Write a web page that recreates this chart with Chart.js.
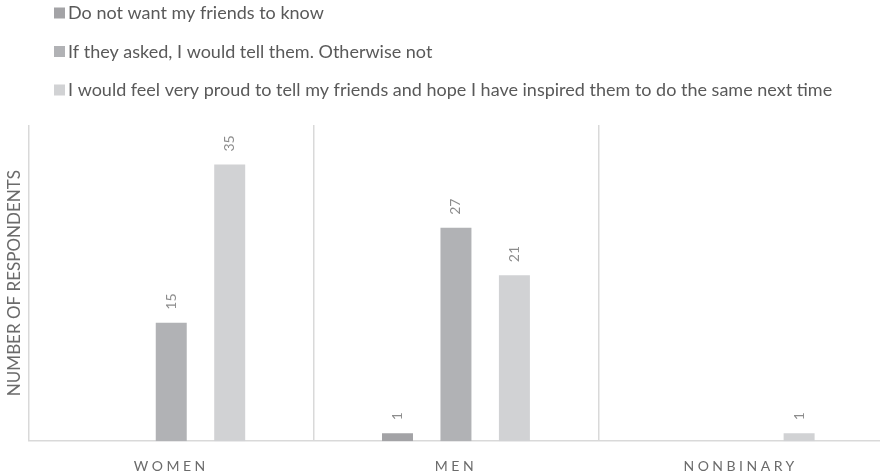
<!DOCTYPE html>
<html>
<head>
<meta charset="utf-8">
<script src="https://cdn.jsdelivr.net/npm/chart.js@4/dist/chart.umd.min.js"></script>
<style>
  html, body { margin: 0; padding: 0; background: #ffffff; overflow: hidden; }
  #wrap { position: relative; width: 883px; height: 475px; }
</style>
</head>
<body>
<div id="wrap"><canvas id="c"></canvas></div>
<script>
// Survey answers by gender
const categories = ['WOMEN', 'MEN', 'NONBINARY'];
const seriesNames = [
  'Do not want my friends to know',
  'If they asked, I would tell them. Otherwise not',
  'I would feel very proud to tell my friends and hope I have inspired them to do the same next time'
];
const notTell = [0, 1, 0];
const tellIfAsked = [15, 27, 0];
const veryProud = [35, 21, 1];
const seriesColors = ['#a3a3a6', '#b1b2b5', '#d1d2d4'];
const axisTitle = 'NUMBER OF RESPONDENTS';

const FONT = 'Lato, "Open Sans", sans-serif';

// Category axis with letter-spaced labels
class SpacedCategoryScale extends Chart.CategoryScale {
  drawLabels(area) {
    const ctx = this.ctx;
    ctx.save();
    ctx.letterSpacing = '3.5px';
    super.drawLabels(area);
    ctx.restore();
  }
}
SpacedCategoryScale.id = 'spacedCategory';
SpacedCategoryScale.defaults = Chart.CategoryScale.defaults;
Chart.register(SpacedCategoryScale);

// Legend stacked one entry per line at the top left
const stackedLegend = {
  id: 'stackedLegend',
  afterDraw(chart) {
    const ctx = chart.ctx;
    ctx.save();
    ctx.font = '18px ' + FONT;
    ctx.textBaseline = 'middle';
    ctx.textAlign = 'left';
    const rowY = [13, 51.5, 90];
    chart.data.datasets.forEach((ds, i) => {
      const y = rowY[i];
      ctx.fillStyle = ds.backgroundColor;
      ctx.fillRect(54, y - 5.5, 11, 11);
      ctx.fillStyle = '#595959';
      ctx.fillText(ds.label, 68, y + 0.5);
    });
    ctx.restore();
  }
};

// Vertical value labels above each bar
const barValues = {
  id: 'barValues',
  afterDatasetsDraw(chart) {
    const ctx = chart.ctx;
    ctx.save();
    ctx.font = '14px ' + FONT;
    ctx.fillStyle = '#8c8c8c';
    ctx.textAlign = 'left';
    ctx.textBaseline = 'middle';
    chart.data.datasets.forEach((ds, i) => {
      const meta = chart.getDatasetMeta(i);
      meta.data.forEach((bar, j) => {
        const v = ds.data[j];
        if (!v) return;
        ctx.save();
        ctx.translate(bar.x, bar.y - 13);
        ctx.rotate(-Math.PI / 2);
        ctx.fillText(String(v), 0, 0);
        ctx.restore();
      });
    });
    ctx.restore();
  }
};

const values = [notTell, tellIfAsked, veryProud];

new Chart(document.getElementById('c'), {
  type: 'bar',
  data: {
    labels: categories,
    datasets: values.map((arr, i) => ({
      label: seriesNames[i],
      data: arr,
      backgroundColor: seriesColors[i],
      borderWidth: 0,
      categoryPercentage: 0.616,
      barPercentage: 0.53
    }))
  },
  options: {
    responsive: true,
    maintainAspectRatio: false,
    animation: false,
    layout: { padding: { top: 125, left: 4, right: 0, bottom: -17 } },
    plugins: {
      legend: { display: false },
      tooltip: { enabled: false }
    },
    scales: {
      x: {
        type: 'spacedCategory',
        grid: {
          display: true,
          offset: true,
          color: '#d9d9d9',
          lineWidth: 1.5,
          drawTicks: false
        },
        border: { display: true, color: '#d9d9d9', width: 1.5 },
        ticks: {
          color: '#6b6b6b',
          font: { family: FONT, size: 14 },
          padding: 17,
          maxRotation: 0
        }
      },
      y: {
        min: 0,
        max: 40,
        grid: { display: false, drawTicks: false },
        border: { display: false },
        ticks: { display: false },
        title: {
          display: true,
          text: axisTitle,
          color: '#6b6b6b',
          font: { family: FONT, size: 17 },
          padding: { top: 0, bottom: 4.5 }
        }
      }
    }
  },
  plugins: [stackedLegend, barValues]
});
</script>
</body>
</html>
